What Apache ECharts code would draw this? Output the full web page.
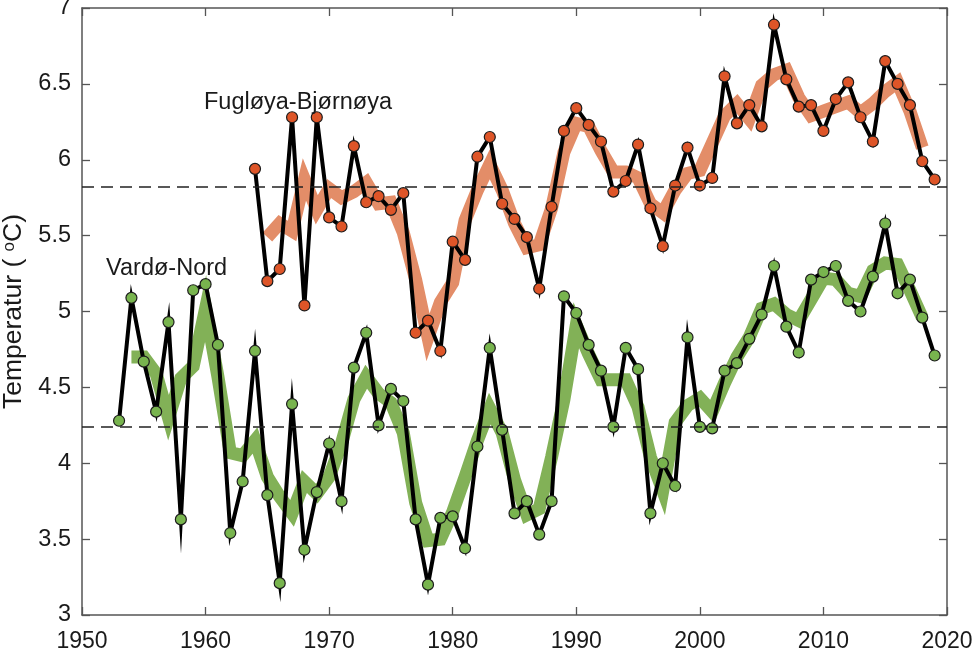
<!DOCTYPE html>
<html>
<head>
<meta charset="utf-8">
<style>
    html, body {margin: 0; padding: 0; background: #fff;}
    #chart {width: 973px; height: 650px;}
</style>
<script src="https://cdn.jsdelivr.net/npm/echarts@6/dist/echarts.min.js"></script>
</head>
<body>
<div id="chart"></div>
<script>
'use strict';

// year of the first value in each list
const vardoFirstYear = 1953;
const vardoSmoothFirstYear = 1954;
const fugloyaFirstYear = 1964;
const fugloyaSmoothFirstYear = 1965;

const vardoValues = [
    4.28, 5.09, 4.67, 4.34, 4.93, 3.63, 5.14, 5.18, 4.78, 3.54, 3.88, 4.74, 3.79, 3.21,
    4.39, 3.43, 3.81, 4.13, 3.75, 4.63, 4.86, 4.25, 4.49, 4.41, 3.63, 3.20, 3.64, 3.65,
    3.44, 4.11, 4.76, 4.22, 3.67, 3.75, 3.53, 3.75, 5.10, 4.99, 4.78, 4.61, 4.24, 4.76,
    4.62, 3.67, 4.00, 3.85, 4.83, 4.24, 4.23, 4.61, 4.66, 4.82, 4.98, 5.30, 4.90, 4.73,
    5.21, 5.26, 5.30, 5.07, 5.00, 5.23, 5.58, 5.12, 5.21, 4.96, 4.71
];
const vardoSmooth = [
    4.70, 4.70, 4.59, 4.30, 4.56, 4.64, 5.02, 4.57, 4.07, 4.05, 4.15, 3.91, 3.78, 3.67,
    3.88, 3.80, 3.91, 4.13, 4.42, 4.57, 4.46, 4.40, 4.20, 3.74, 3.49, 3.50, 3.68, 3.91,
    4.15, 4.36, 4.20, 3.89, 3.66, 3.70, 4.04, 4.42, 4.91, 4.72, 4.55, 4.55, 4.55, 4.37,
    4.04, 3.82, 4.27, 4.38, 4.43, 4.34, 4.53, 4.70, 4.83, 5.02, 5.05, 4.98, 4.94, 5.08,
    5.22, 5.21, 5.12, 5.10, 5.27, 5.32, 5.31, 5.14, 4.96
];
const fugloyaValues = [
    5.94, 5.20, 5.28, 6.28, 5.04, 6.28, 5.62, 5.56, 6.09, 5.72, 5.76, 5.67, 5.78, 4.86,
    4.94, 4.74, 5.46, 5.34, 6.02, 6.15, 5.71, 5.61, 5.49, 5.15, 5.69, 6.19, 6.34, 6.23,
    6.12, 5.79, 5.86, 6.10, 5.68, 5.43, 5.83, 6.08, 5.83, 5.88, 6.55, 6.24, 6.36, 6.22,
    6.89, 6.53, 6.35, 6.36, 6.19, 6.40, 6.51, 6.28, 6.12, 6.65, 6.50, 6.36, 5.99, 5.87
];
const fugloyaSmooth = [
    5.49, 5.58, 5.53, 5.87, 5.67, 5.81, 5.75, 5.79, 5.85, 5.71, 5.72, 5.52, 5.21, 4.83,
    5.06, 5.19, 5.60, 5.80, 5.97, 5.80, 5.58, 5.42, 5.44, 5.68, 6.05, 6.24, 6.22, 6.06,
    5.92, 5.92, 5.88, 5.71, 5.65, 5.80, 5.91, 5.93, 6.11, 6.29, 6.37, 6.27, 6.49, 6.56,
    6.59, 6.41, 6.29, 6.32, 6.35, 6.38, 6.31, 6.37, 6.45, 6.51, 6.32, 6.08
];
const meanLevels = [5.82, 4.24];
const stationLabels = [
    {name: 'Fugløya-Bjørnøya', value: [1959.87, 6.38]},
    {name: 'Vardø-Nord', value: [1951.95, 5.28]}
];

const fontName = '"Liberation Sans", Arial, sans-serif';
const axisColor = '#555';

function withYears(firstYear, values) {
    return values.map(function (v, i) {
        return [firstYear + i, v];
    });
}

// thick pale band underneath
function ribbon(data, color) {
    return {
        type: 'line',
        data: data,
        z: 2,
        symbol: 'none',
        silent: true,
        lineStyle: {color: color, width: 13, join: 'miter', miterLimit: 12, cap: 'butt'}
    };
}

// black line with round markers on top
function yearly(data, color, spike) {
    return {
        type: 'line',
        data: data,
        z: 4,
        symbol: 'circle',
        symbolSize: 11,
        showAllSymbol: true,
        lineStyle: {color: '#000', width: 4, join: 'miter', miterLimit: spike},
        itemStyle: {color: color, borderColor: '#1c1c1c', borderWidth: 1.2}
    };
}

function frameAxis(extra) {
    return Object.assign({
        type: 'value',
        splitLine: {show: false},
        axisLine: {lineStyle: {color: axisColor, width: 1.5}},
        axisTick: {inside: true, length: 8, lineStyle: {color: axisColor, width: 1.3}},
        axisLabel: {show: false}
    }, extra);
}

let myChart = echarts.init(document.getElementById('chart'), null, {renderer: 'canvas'});

myChart.setOption({
    animation: false,
    backgroundColor: '#fff',
    textStyle: {fontFamily: fontName},
    grid: {left: 82, right: 26, top: 8, bottom: 35, outerBoundsMode: 'none'},
    xAxis: [
        frameAxis({
            min: 1950,
            max: 2020,
            interval: 10,
            position: 'bottom',
            axisLabel: {
                color: '#1a1a1a',
                fontSize: 23,
                margin: 15,
                hideOverlap: false,
                formatter: function (val) {
                    return String(val);
                }
            }
        }),
        frameAxis({min: 1950, max: 2020, interval: 10, position: 'top'})
    ],
    yAxis: [
        frameAxis({
            min: 3,
            max: 7,
            interval: 0.5,
            position: 'left',
            name: 'Temperatur ( {sup|o}C)',
            nameLocation: 'middle',
            nameGap: 47,
            nameRotate: 90,
            nameTextStyle: {
                color: '#1a1a1a',
                fontSize: 26.5,
                rich: {
                    sup: {fontSize: 17, verticalAlign: 'top', padding: [0, 0, 10, 0], color: '#1a1a1a'}
                }
            },
            axisLabel: {
                color: '#1a1a1a',
                fontSize: 23.5,
                margin: 11,
                verticalAlign: 'middle',
                padding: [10, 0, 0, 0]
            }
        }),
        frameAxis({min: 3, max: 7, interval: 0.5, position: 'right'})
    ],
    series: [
        ribbon(withYears(fugloyaSmoothFirstYear, fugloyaSmooth), '#e38d68'),
        ribbon(withYears(vardoSmoothFirstYear, vardoSmooth), '#82b157'),
        {
            // dashed mean lines
            type: 'line',
            data: [],
            z: 3,
            markLine: {
                silent: true,
                symbol: 'none',
                label: {show: false},
                lineStyle: {color: '#222', width: 1.5, type: [12, 7]},
                data: meanLevels.map(function (v) {
                    return {yAxis: v};
                })
            }
        },
        yearly(withYears(fugloyaFirstYear, fugloyaValues), '#de5528', 8),
        yearly(withYears(vardoFirstYear, vardoValues), '#78b44e', 18),
        {
            // station names
            type: 'scatter',
            data: stationLabels,
            symbolSize: 0,
            z: 5,
            silent: true,
            itemStyle: {opacity: 1},
            label: {
                show: true,
                position: 'right',
                distance: 0,
                color: '#1a1a1a',
                fontSize: 23.5,
                formatter: function (params) {
                    return params.name;
                }
            }
        }
    ]
});
</script>
</body>
</html>
